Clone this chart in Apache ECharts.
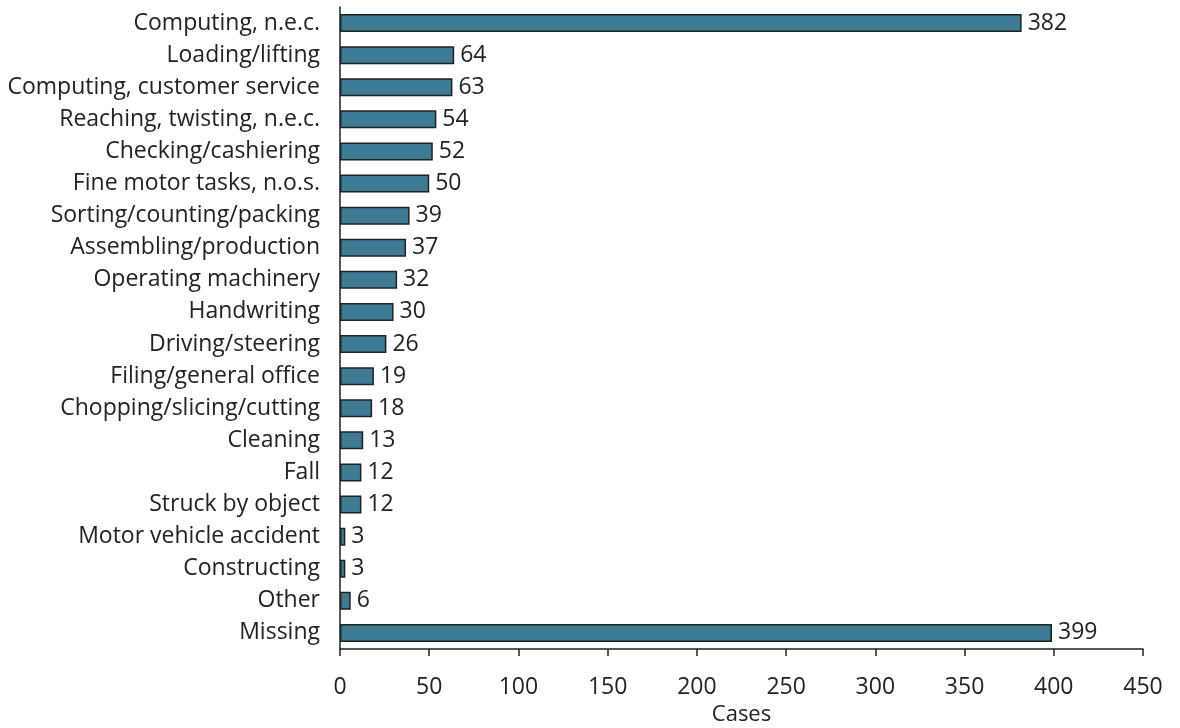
<!DOCTYPE html>
<html><head><meta charset="utf-8">
<script src="https://cdn.jsdelivr.net/npm/echarts@6/dist/echarts.min.js"></script>
<style>html,body{margin:0;padding:0;background:#fff}#c{width:1180px;height:728px}</style>
</head><body><div id="c"></div>
<script>
const categories = ["Computing, n.e.c.","Loading/lifting","Computing, customer service","Reaching, twisting, n.e.c.","Checking/cashiering","Fine motor tasks, n.o.s.","Sorting/counting/packing","Assembling/production","Operating machinery","Handwriting","Driving/steering","Filing/general office","Chopping/slicing/cutting","Cleaning","Fall","Struck by object","Motor vehicle accident","Constructing","Other","Missing"];
const cases = [382,64,63,54,52,50,39,37,32,30,26,19,18,13,12,12,3,3,6,399];
const xTicks = {min:0, max:450, interval:50};
const font = "'Open Sans', 'Noto Sans', sans-serif";
const chart = echarts.init(document.getElementById('c'));
chart.setOption({
  animation:false,
  grid:{left:340, right:37, top:7, bottom:79, containLabel:false, outerBoundsMode:'none'},
  xAxis:{type:'value', min:xTicks.min, max:xTicks.max, interval:xTicks.interval,
    name:'Cases', nameLocation:'middle', nameGap:55,
    nameTextStyle:{fontSize:22, color:'#222', fontFamily:font},
    axisLine:{show:true, lineStyle:{color:'#222', width:1.5}},
    axisTick:{show:true, length:7, lineStyle:{color:'#222', width:1.5}},
    axisLabel:{fontSize:23, color:'#222', fontFamily:font, margin:27},
    splitLine:{show:false}},
  yAxis:{type:'category', data:categories, inverse:true,
    axisLine:{show:true, lineStyle:{color:'#222', width:1.5}},
    axisTick:{show:false},
    axisLabel:{fontSize:23, color:'#222', fontFamily:font, margin:20}},
  series:[{type:'bar', data:cases, barWidth:'56%',
    itemStyle:{color:'#3d7a94', borderColor:'#222', borderWidth:1.5},
    label:{show:true, position:'right', distance:6, fontSize:23, color:'#222', fontFamily:font}}]
});
</script></body></html>
